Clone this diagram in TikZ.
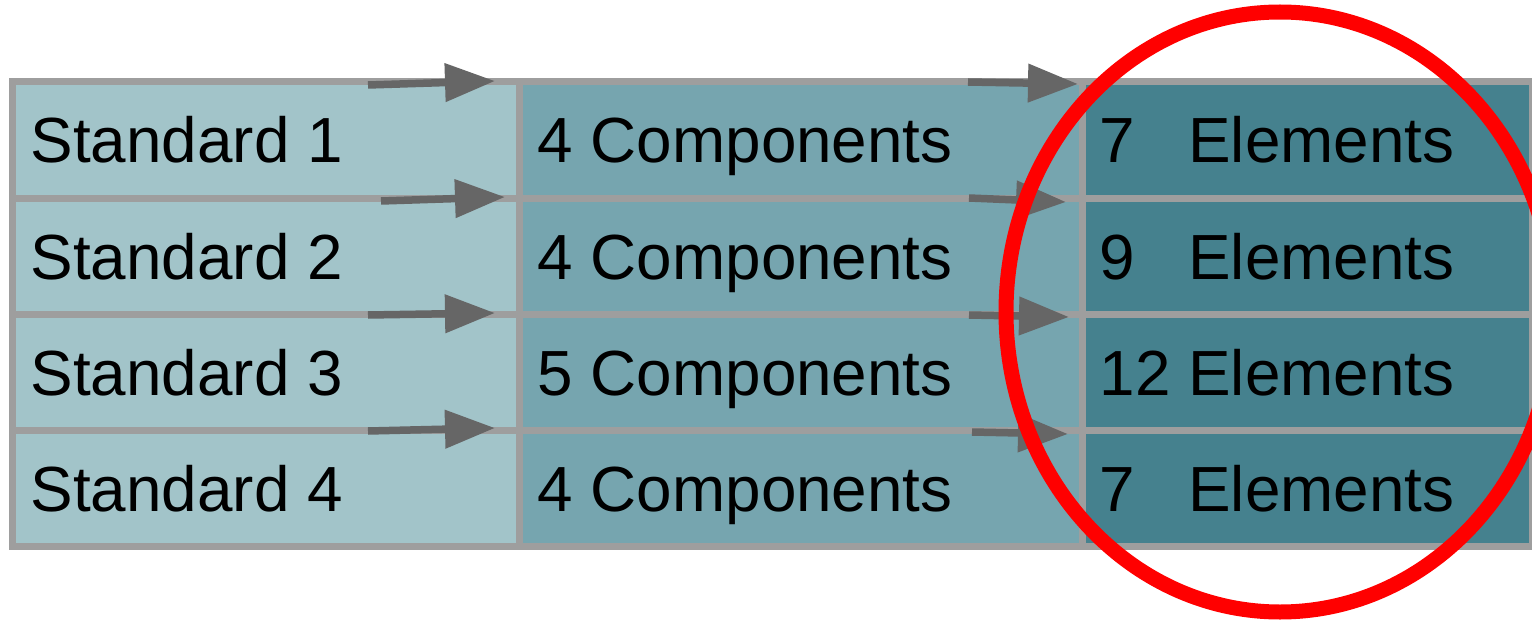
\documentclass[tikz,border=0pt]{standalone}
\usepackage{fontspec}
\setmainfont{Liberation Sans}
\usetikzlibrary{arrows.meta,shapes.geometric}
\definecolor{cA}{HTML}{A2C4C9}
\definecolor{cB}{HTML}{76A5AF}
\definecolor{cC}{HTML}{45818E}
\definecolor{grid}{HTML}{9E9E9E}
\definecolor{arr}{HTML}{666666}
\tikzset{
  cell/.style={draw=grid, line width=7pt, rectangle, inner sep=0pt, outer sep=0pt, minimum height=116pt},
  colA/.style={cell, fill=cA, minimum width=506.5pt},
  colB/.style={cell, fill=cB, minimum width=563pt},
  colC/.style={cell, fill=cC, minimum width=450pt},
  lbl/.style={anchor=base west, inner sep=0pt, text=black, font=\fontsize{63.8}{76}\selectfont},
  conn/.style={draw=arr, line width=7.5pt, -{Triangle[length=50pt, width=37pt]}, arr},
  hilite/.style={draw=red, line width=15pt, ellipse, inner sep=0pt, minimum width=548pt, minimum height=600pt}
}
\begin{document}
\begin{tikzpicture}[x=1pt, y=-1pt]
\useasboundingbox (0,0) rectangle (1532,623);
% cells
\foreach \i/\yc in {1/140, 2/256, 3/372, 4/488} {
  \node[colA] (s\i) at (265.75,\yc) {};
  \node[colB] (c\i) at (800.5,\yc) {};
  \node[colC] (e\i) at (1307,\yc) {};
}
% labels
\node[lbl] (ts1) at ([shift={(18,23)}]s1.west) {Standard 1};
\node[lbl] (ts2) at ([shift={(18,23)}]s2.west) {Standard 2};
\node[lbl] (ts3) at ([shift={(18,23)}]s3.west) {Standard 3};
\node[lbl] (ts4) at ([shift={(18,23)}]s4.west) {Standard 4};
\node[lbl] (tc1) at ([shift={(18.5,23)}]c1.west) {4 Components};
\node[lbl] (tc2) at ([shift={(18.5,23)}]c2.west) {4 Components};
\node[lbl] (tc3) at ([shift={(18.5,23)}]c3.west) {5 Components};
\node[lbl] (tc4) at ([shift={(18.5,23)}]c4.west) {4 Components};
\node[lbl] (te1) at ([shift={(17.5,23)}]e1.west) {7\hphantom{2} Elements};
\node[lbl] (te2) at ([shift={(17.5,23)}]e2.west) {9\hphantom{2} Elements};
\node[lbl] (te3) at ([shift={(17.5,23)}]e3.west) {12 Elements};
\node[lbl] (te4) at ([shift={(17.5,23)}]e4.west) {7\hphantom{2} Elements};
% connectors
\draw[conn] ([shift={(-151,3)}]s1.north east) -- ([shift={(-24,-1)}]c1.north west);
\draw[conn] ([shift={(-138,3)}]s2.north east) -- ([shift={(-14,-1)}]c2.north west);
\draw[conn] ([shift={(-151,1)}]s3.north east) -- ([shift={(-24,-1)}]c3.north west);
\draw[conn] ([shift={(-151,1)}]s4.north east) -- ([shift={(-24,-2)}]c4.north west);
\draw[conn] ([shift={(-114,0)}]c1.north east) -- ([shift={(-4,2)}]e1.north west);
\draw[conn] ([shift={(-113,0)}]c2.north east) -- ([shift={(-16,4)}]e2.north west);
\draw[conn] ([shift={(-113,1)}]c3.north east) -- ([shift={(-13,3)}]e3.north west);
\draw[conn] ([shift={(-110,2)}]c4.north east) -- ([shift={(-14,4)}]e4.north west);
% highlight
\node[hilite] (hl) at (1280,312) {};
\end{tikzpicture}
\end{document}
